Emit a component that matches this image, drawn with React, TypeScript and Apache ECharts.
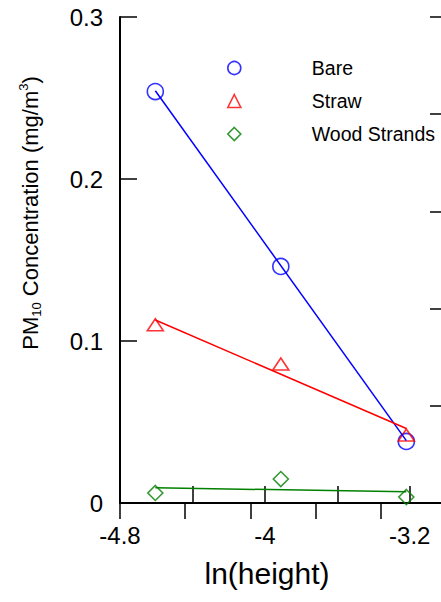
import React, { useEffect, useRef } from "react";
import * as echarts from "echarts";

const seriesNames = ["Bare", "Straw", "Wood Strands"];
const lnHeight = [-4.605, -3.912, -3.219];
const bareValues = [0.254, 0.146, 0.038];
const strawValues = [0.110, 0.0858, 0.042];
const woodValues = [0.0062, 0.0148, 0.0037];
const fitX = [-4.605, -3.219];
const bareFit = [0.2545, 0.0385];
const strawFit = [0.113, 0.046];
const woodFit = [0.0094, 0.0069];
const xTickLabels = ["-4.8", "-4", "-3.2"];
const yTickLabels = ["0", "0.1", "0.2", "0.3"];

const colors = ["#0000ff", "#ff0000", "#008000"];
const symbols = ["circle", "triangle", "diamond"];
const symbolSizes: any[] = [16, [16, 12], 15];
const FONT = "Liberation Sans, Arial, sans-serif";

export default function App() {
  const ref = useRef<HTMLDivElement>(null);
  useEffect(() => {
    if (!ref.current) return;
    const chart = echarts.init(ref.current, null, { renderer: "svg" });
    const values = [bareValues, strawValues, woodValues];
    const fits = [bareFit, strawFit, woodFit];
    const scatter = seriesNames.map((name, i) => ({
      name,
      type: "scatter",
      xAxisIndex: 0,
      yAxisIndex: 0,
      symbol: symbols[i],
      symbolSize: symbolSizes[i],
      itemStyle: { color: "rgba(0,0,0,0)", borderColor: colors[i], borderWidth: 1.6 },
      data: lnHeight.map((x, j) => [x, values[i][j]]),
      z: 3,
    }));
    const lines = seriesNames.map((name, i) => ({
      name: name + " fit",
      type: "line",
      xAxisIndex: 0,
      yAxisIndex: 0,
      symbol: "none",
      lineStyle: { color: colors[i], width: 1.5 },
      data: fitX.map((x, j) => [x, fits[i][j]]),
      z: 4,
    }));
    chart.setOption({
      animation: false,
      textStyle: { fontFamily: FONT },
      grid: { left: 120, top: 17, width: 326, height: 486 },
      legend: {
        orient: "vertical",
        left: 222,
        top: 53,
        padding: 5,
        itemWidth: 13,
        itemHeight: 13,
        itemGap: 13,
        textStyle: { fontSize: 19.5, color: "#000", fontFamily: FONT, padding: [0, 0, 0, 66] },
        data: seriesNames.map((name, i) => ({
          name,
          icon: symbols[i],
          itemStyle: { color: "rgba(0,0,0,0)", borderColor: colors[i], borderWidth: 1.6 },
        })),
      },
      xAxis: [
        {
          type: "value",
          position: "bottom",
          min: -4.8,
          max: -3.0,
          interval: 0.4,
          name: "ln(height)",
          nameLocation: "middle",
          nameGap: 55,
          nameTextStyle: { fontSize: 30, color: "#000", fontFamily: FONT, padding: [0, 32, 0, 0] },
          axisLine: { lineStyle: { color: "#000", width: 2 } },
          axisTick: { inside: true, length: 17, lineStyle: { color: "#000", width: 1.5 } },
          splitLine: { show: false },
          axisLabel: {
            margin: 20,
            fontSize: 24,
            color: "#000",
            fontFamily: FONT,
            formatter: (v: number) => {
              const r = Math.round(v * 10) / 10;
              const s = String(r);
              return xTickLabels.indexOf(s) >= 0 ? s : "";
            },
          },
        },
        {
          type: "value",
          position: "top",
          min: 0,
          max: 5,
          interval: 1,
          axisLine: { show: true, lineStyle: { color: "#000", width: 2 } },
          axisTick: { inside: true, length: 16, lineStyle: { color: "#000", width: 1.5 } },
          axisLabel: { show: false },
          splitLine: { show: false },
        },
      ],
      yAxis: [
        {
          type: "value",
          position: "left",
          min: 0,
          max: 0.3,
          interval: 0.1,
          axisLine: { show: true, lineStyle: { color: "#000", width: 2 } },
          axisTick: { show: true, inside: true, length: 17, lineStyle: { color: "#000", width: 1.5 } },
          splitLine: { show: false },
          axisLabel: {
            margin: 17,
            fontSize: 24,
            color: "#000",
            fontFamily: FONT,
            formatter: (v: number) => {
              const k = Math.round(v * 10);
              return yTickLabels[k] ?? "";
            },
          },
        },
        {
          type: "value",
          position: "right",
          min: 0,
          max: 5,
          interval: 1,
          axisLine: { show: true, lineStyle: { color: "#000", width: 2 } },
          axisTick: { show: true, inside: true, length: 16, lineStyle: { color: "#000", width: 1.5 } },
          axisLabel: { show: false },
          splitLine: { show: false },
        },
      ],
      graphic: [
        {
          type: "text",
          x: 30,
          y: 213,
          rotation: Math.PI / 2,
          style: {
            text: "PM{sub|10} Concentration (mg/m{sup|3})",
            fontSize: 22,
            fontFamily: FONT,
            fill: "#000",
            align: "center",
            verticalAlign: "middle",
            lineHeight: 26,
            rich: {
              sub: { fontSize: 13, fontFamily: FONT, fill: "#000", verticalAlign: "bottom", lineHeight: 13 },
              sup: { fontSize: 13, fontFamily: FONT, fill: "#000", verticalAlign: "top", lineHeight: 13 },
            },
          },
        },
      ],
      series: [...scatter, ...lines],
    });
    return () => chart.dispose();
  }, []);
  return (
    <div style={{ position: "absolute", left: 0, top: 0, width: 441, height: 602, overflow: "hidden", background: "#fff" }}>
      <div ref={ref} style={{ width: 460, height: 602 }} />
    </div>
  );
}
